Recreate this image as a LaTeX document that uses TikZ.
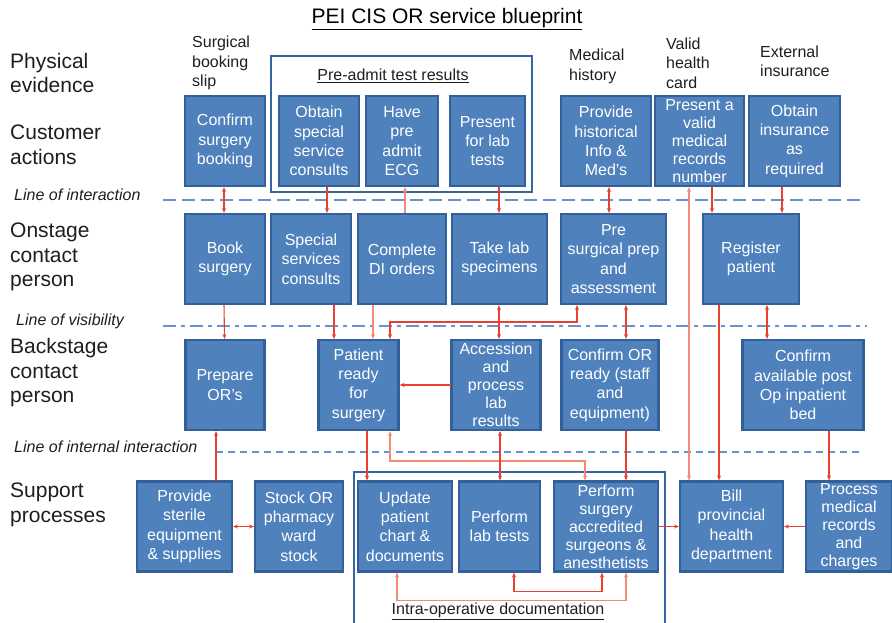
\documentclass[tikz,border=0pt]{standalone}
\usepackage{fontspec}
\setmainfont{Liberation Sans}
\usepackage{tikz}
\usetikzlibrary{positioning, arrows.meta}

\definecolor{boxblue}{HTML}{4F81BD}
\definecolor{boxedge}{HTML}{33609A}
\definecolor{frameblue}{HTML}{3566A2}
\definecolor{sepblue}{HTML}{6893CF}
\definecolor{linkred}{HTML}{E8412F}
\definecolor{linkpink}{HTML}{F2897B}
\definecolor{inkgrey}{HTML}{1E1E1E}

\begin{document}
\begin{tikzpicture}[x=1pt, y=-1pt,
    box/.style = {draw=boxedge, fill=boxblue, line width=2.2pt, text=white, align=center,
                  inner sep=0pt, outer sep=0pt, minimum height=90pt,
                  font=\fontsize{16}{19.3}\selectfont},
    tight/.style = {font=\fontsize{16}{18}\selectfont},
    frame/.style = {draw=frameblue, line width=2.6pt},
    stage/.style = {anchor=west, align=left, inner sep=0pt, text=inkgrey, font=\fontsize{21}{24.5}\selectfont},
    prop/.style = {anchor=west, align=left, inner sep=0pt, text=inkgrey, font=\fontsize{16}{19.3}\selectfont},
    sepname/.style = {anchor=west, inner sep=0pt, text=inkgrey, font=\fontsize{16}{19}\selectfont\itshape},
    sep/.style = {draw=sepblue, line width=2.8pt},
    link/.style = {draw=linkred, line width=1.1pt, shorten >=1pt, shorten <=1pt},
    pale/.style = {draw=linkpink},
    arr/.style = {link, -{Stealth[length=5pt,width=4pt]}},
    both/.style = {link, {Stealth[length=5pt,width=4pt]}-{Stealth[length=5pt,width=4pt]}}]

	\useasboundingbox (0,0) rectangle (892,622);
	\clip (0,0) rectangle (892,622);

	% headings
	\node (title) at (447,19) {\fontsize{21}{25}\selectfont\underline{PEI CIS OR service blueprint}};
	\node[stage] (physical) at (10,73) {Physical\\evidence};
	\node[stage] (customer) at (10,145) {Customer\\actions};
	\node[stage] (onstage) at (10,257) {Onstage\\contact\\person};
	\node[stage] (backstage) at (10,373) {Backstage\\contact\\person};
	\node[stage] (support) at (10,505) {Support\\processes};

	% the three lines
	\draw[sep, dash pattern=on 13pt off 6pt] (163,200) -- (862,200);
	\draw[sep, dash pattern=on 13pt off 5pt on 4pt off 5pt] (163,326) -- (867,326);
	\draw[sep, dash pattern=on 7pt off 5pt] (216,452) -- (862,452);
	\node[sepname] (interaction) at (14,195) {Line of interaction};
	\node[sepname] (visibility) at (16,321) {Line of visibility};
	\node[sepname] (internal) at (14,447) {Line of internal interaction};

	% physical evidence
	\node[prop] (slip) at (192,63) {Surgical\\booking\\slip};
	\node[prop] (medhist) at (569,66.5) {Medical\\history};
	\node[prop] (healthcard) at (666,63) {Valid\\health\\card};
	\node[prop] (insurance) at (760,61.5) {External\\insurance};

	% frames
	\draw[frame] (271,56) rectangle (532,192);
	\node[prop, anchor=center] (preadmit) at (393,76) {\underline{Pre-admit test results}};
	\draw[frame] (354,472) rectangle (665,640);
	\node[prop, anchor=center] (intraop) at (498,611) {\underline{Intra-operative documentation}};

	% customer actions
	\node[box, minimum width=80pt] (confirm) at (225,141) {Confirm\\surgery\\booking};
	\node[box, minimum width=80pt, right=14pt of confirm] (obtain) {Obtain\\special\\service\\consults};
	\node[box, minimum width=72pt, right=7pt of obtain] (ecg) {Have\\pre\\admit\\ECG};
	\node[box, minimum width=75pt, right=12pt of ecg] (present) {Present\\for lab\\tests};
	\node[box, minimum width=90pt, right=36pt of present] (history) {Provide\\historical\\Info \&\\Med’s};
	\node[box, tight, minimum width=89pt, right=4pt of history] (card) {Present a\\valid\\medical\\records\\number};
	\node[box, minimum width=91pt, right=5pt of card] (insure) {Obtain\\insurance\\as\\required};

	% onstage
	\node[box, minimum width=80pt, below=28pt of confirm] (book) {Book\\surgery};
	\node[box, minimum width=80pt, right=6pt of book] (special) {Special\\services\\consults};
	\node[box, minimum width=88pt, right=7pt of special] (di) {Complete\\DI orders};
	\node[box, minimum width=95pt, right=6pt of di] (take) {Take lab\\specimens};
	\node[box, minimum width=105pt, right=14pt of take] (presurg) {Pre\\surgical prep\\and\\assessment};
	\node[box, minimum width=96pt, right=37pt of presurg] (register) {Register\\patient};

	% backstage
	\node[box, minimum width=79pt, below=36pt of book] (prepare) {Prepare\\OR’s};
	\node[box, minimum width=80pt, right=54pt of prepare] (ready) {Patient\\ready\\for\\surgery};
	\node[box, tight, minimum width=89pt, right=53pt of ready] (accession) {Accession\\and\\process\\lab\\results};
	\node[box, minimum width=97pt, right=21pt of accession] (orready) {Confirm OR\\ready (staff\\and\\equipment)};
	\node[box, minimum width=121pt, right=84pt of orready] (bed) {Confirm\\available post\\Op inpatient\\bed};

	% support
	\node[box, minimum width=95pt] (sterile) at (184.5,526.5) {Provide\\sterile\\equipment\\\& supplies};
	\node[box, minimum width=88pt, right=23pt of sterile] (stock) {Stock OR\\pharmacy\\ward\\stock};
	\node[box, minimum width=94pt, right=15pt of stock] (chart) {Update\\patient\\chart \&\\documents};
	\node[box, minimum width=81pt, right=7pt of chart] (labtests) {Perform\\lab tests};
	\node[box, tight, minimum width=104pt, right=14pt of labtests] (surgery) {Perform\\surgery\\accredited\\surgeons \&\\anesthetists};
	\node[box, minimum width=103pt, right=22pt of surgery] (bill) {Bill\\provincial\\health\\department};
	\node[box, tight, minimum width=86pt, right=23pt of bill] (records) {Process\\medical\\records\\and\\charges};

	% across the line of interaction
	\draw[both] ([xshift=-1pt]confirm.south) -- ([xshift=-1pt]book.north);
	\draw[arr] ([xshift=8pt]obtain.south) -- ([xshift=16pt]special.north);
	\draw[arr, pale] ([xshift=3pt]di.north) -- ([xshift=3pt]ecg.south);
	\draw[arr] ([xshift=11.5pt]present.south) -- ([xshift=-0.5pt]take.north);
	\draw[both] ([xshift=3pt]history.south) -- ([xshift=-4.5pt]presurg.north);
	\draw[both, pale] ([xshift=-10.5pt]card.south) -- ([xshift=-42.5pt]bill.north);
	\draw[arr] ([xshift=12.5pt]card.south) -- ([xshift=-39pt]register.north);
	\draw[arr] ([xshift=-12.5pt]insure.south) -- ([xshift=31pt]register.north);

	% across the line of visibility
	\draw[arr] ([xshift=-1pt]book.south) -- ([xshift=-0.5pt]prepare.north);
	\draw[arr] ([xshift=23pt]special.south) -- ([xshift=-24.5pt]ready.north);
	\draw[arr, pale] ([xshift=-29pt]di.south) -- ([xshift=14.5pt]ready.north);
	\draw[both] ([xshift=-36.5pt]presurg.south) -- ++(0,18) -| ([xshift=31.5pt]ready.north);
	\draw[both] ([xshift=-0.5pt]take.south) -- ([xshift=3pt]accession.north);
	\draw[both] ([xshift=12.5pt]presurg.south) -- ([xshift=16pt]orready.north);
	\draw[both] ([xshift=16pt]register.south) -- ([xshift=-36pt]bed.north);
	\draw[arr] (accession) -- (ready);
	\draw[arr] ([xshift=-32pt]register.south) -- ([xshift=-12.5pt]bill.north);

	% across the line of internal interaction
	\draw[arr] ([xshift=26pt]bed.south) -- ([xshift=-20pt]records.north);
	\draw[arr] ([xshift=31.5pt]sterile.north) -- ([xshift=-9pt]prepare.south);
	\draw[both] (sterile) -- (stock);
	\draw[arr] ([xshift=8.5pt]ready.south) -- ([xshift=-38pt]chart.north);
	\draw[both, pale] ([xshift=31.5pt]ready.south) -- ++(0,31) -| ([xshift=-21pt]surgery.north);
	\draw[both] ([xshift=4pt]accession.south) -- ([xshift=0.5pt]labtests.north);
	\draw[arr] ([xshift=16pt]orready.south) -- ([xshift=20pt]surgery.north);
	\draw[arr] (surgery) -- (bill);
	\draw[arr] (records) -- (bill);

	% intra-operative documentation
	\draw[both] ([xshift=14.5pt]labtests.south) -- ++(0,20) -| ([xshift=-4pt]surgery.south);
	\draw[both, pale] ([xshift=-8pt]chart.south) -- ++(0,29) -| ([xshift=20pt]surgery.south);
\end{tikzpicture}
\end{document}
